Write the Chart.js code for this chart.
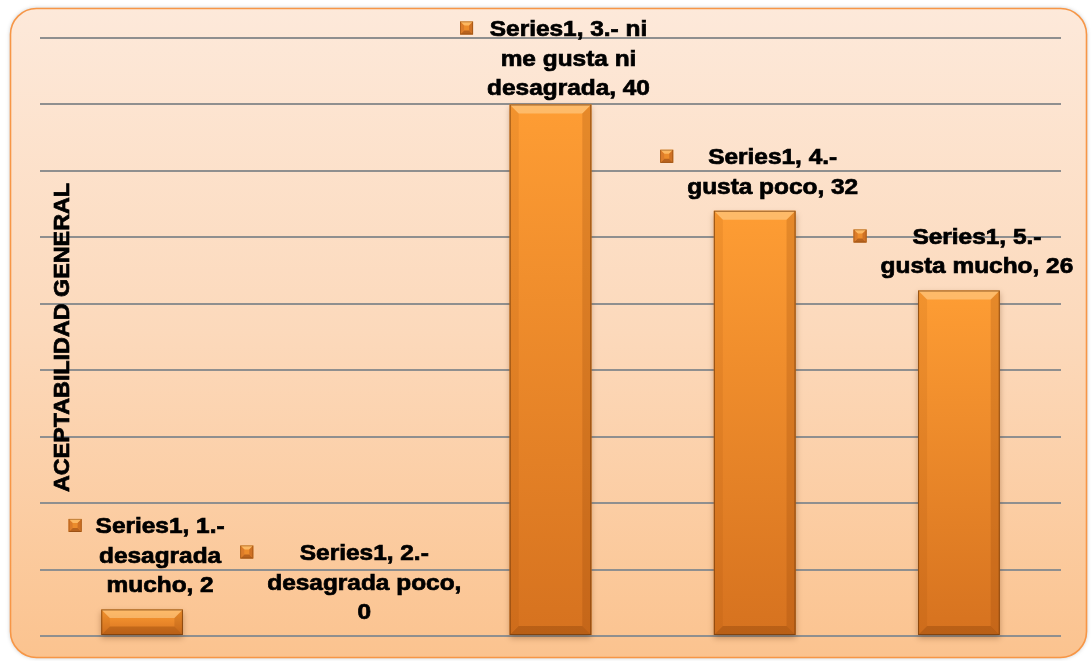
<!DOCTYPE html>
<html>
<head>
<meta charset="utf-8">
<style>
  html, body { margin: 0; padding: 0; background: #ffffff; }
  #wrap { width: 1091px; height: 661px; position: relative; }
</style>
<script src="https://cdn.jsdelivr.net/npm/chart.js@4.4.1/dist/chart.umd.min.js"></script>
</head>
<body>
<div id="wrap"><canvas id="c" width="1091" height="661"></canvas></div>
<script>
// ---- data ----
const seriesName = 'Series1';
const categories = [
  '1.- desagrada mucho',
  '2.- desagrada poco',
  '3.- ni me gusta ni desagrada',
  '4.- gusta poco',
  '5.- gusta mucho'
];
const values = [2, 0, 40, 32, 26];
const yMin = 0;
const yMax = 45;
const yStep = 5;
const axisTitle = 'ACEPTABILIDAD GENERAL';

// ---- styling ----
const LABEL_FONT = 'bold 22px "Liberation Sans", Arial, sans-serif';
const LABEL_STRETCH = 1.11;
const LABEL_LINE_H = 29.5;
const LABEL_WRAP = 176;

function wrapText(ctx, text, maxW) {
  const words = text.split(' ');
  const lines = [];
  let cur = '';
  for (const w of words) {
    const test = cur ? cur + ' ' + w : w;
    if (cur && ctx.measureText(test).width > maxW) {
      lines.push(cur);
      cur = w;
    } else {
      cur = test;
    }
  }
  if (cur) lines.push(cur);
  return lines;
}

// heavy text: fill plus a thin stroke of the same colour
function heavyText(ctx, s) {
  ctx.fillText(s, 0, 0);
  ctx.strokeText(s, 0, 0);
}

// small bevelled square used as the legend key in each label
function drawKey(ctx, x, y, s) {
  const e = 4;
  ctx.save();
  ctx.fillStyle = '#ec8c2c';
  ctx.fillRect(x, y, s, s);
  const face = (pts, col) => {
    ctx.beginPath();
    ctx.moveTo(pts[0][0], pts[0][1]);
    for (let k = 1; k < pts.length; k++) ctx.lineTo(pts[k][0], pts[k][1]);
    ctx.closePath();
    ctx.fillStyle = col;
    ctx.fill();
  };
  face([[x, y], [x + s, y], [x + s - e, y + e], [x + e, y + e]], '#fcb862');
  face([[x, y + s], [x + s, y + s], [x + s - e, y + s - e], [x + e, y + s - e]], '#b8631e');
  face([[x, y], [x + e, y + e], [x + e, y + s - e], [x, y + s]], '#dc7c2a');
  face([[x + s, y], [x + s - e, y + e], [x + s - e, y + s - e], [x + s, y + s]], '#cf7124');
  ctx.strokeStyle = 'rgba(120,60,10,0.55)';
  ctx.lineWidth = 0.8;
  ctx.strokeRect(x + 0.4, y + 0.4, s - 0.8, s - 0.8);
  ctx.restore();
}

// rounded panel behind the whole chart
const panelPlugin = {
  id: 'panel',
  beforeDraw(chart) {
    const ctx = chart.ctx;
    const x = 10.5, y = 8.5, w = 1076, h = 649, r = 26;
    ctx.save();
    const path = new Path2D();
    path.roundRect(x, y, w, h, r);
    const g = ctx.createLinearGradient(0, y, 0, y + h);
    g.addColorStop(0, '#fde9da');
    g.addColorStop(0.5, '#fcd9bb');
    g.addColorStop(1, '#fbc38f');
    ctx.shadowColor = 'rgba(0,0,0,0.28)';
    ctx.shadowBlur = 4;
    ctx.fillStyle = g;
    ctx.fill(path);
    ctx.shadowColor = 'transparent';
    ctx.strokeStyle = '#f79646';
    ctx.lineWidth = 1.6;
    ctx.stroke(path);
    ctx.restore();
  }
};

// bevelled, shaded bars painted over each bar element
const barPlugin = {
  id: 'bevelBars',
  afterDatasetsDraw(chart) {
    const ctx = chart.ctx;
    const meta = chart.getDatasetMeta(0);
    meta.data.forEach((bar) => {
      const p = bar.getProps(['x', 'y', 'base', 'width'], true);
      const l = p.x - p.width / 2, r = p.x + p.width / 2;
      const t = Math.min(p.y, p.base), b = Math.max(p.y, p.base);
      const h = b - t;
      if (h < 1) return;
      ctx.save();
      // soft shadow under the bar
      ctx.shadowColor = 'rgba(90,40,0,0.35)';
      ctx.shadowBlur = 6;
      ctx.shadowOffsetY = 3;
      const g = ctx.createLinearGradient(0, t, 0, b);
      g.addColorStop(0, '#fe9d34');
      g.addColorStop(1, '#d6721f');
      ctx.fillStyle = g;
      ctx.fillRect(l, t, p.width, h);
      ctx.shadowColor = 'transparent';
      const e = Math.min(9, h / 3, p.width / 4);
      const face = (pts, col) => {
        ctx.beginPath();
        ctx.moveTo(pts[0][0], pts[0][1]);
        for (let k = 1; k < pts.length; k++) ctx.lineTo(pts[k][0], pts[k][1]);
        ctx.closePath();
        ctx.fillStyle = col;
        ctx.fill();
      };
      face([[l, t], [r, t], [r - e, t + e], [l + e, t + e]], 'rgba(255,225,170,0.45)');
      face([[l, b], [r, b], [r - e, b - e], [l + e, b - e]], 'rgba(110,45,0,0.28)');
      face([[l, t], [l + e, t + e], [l + e, b - e], [l, b]], 'rgba(140,60,0,0.10)');
      face([[r, t], [r - e, t + e], [r - e, b - e], [r, b]], 'rgba(120,50,0,0.18)');
      ctx.strokeStyle = 'rgba(110,55,10,0.7)';
      ctx.lineWidth = 1;
      ctx.strokeRect(l + 0.5, t + 0.5, p.width - 1, h - 1);
      ctx.restore();
    });
  }
};

// data labels: "Series1, <category>, <value>" with a key square
const labelPlugin = {
  id: 'barLabels',
  afterDatasetsDraw(chart) {
    const ctx = chart.ctx;
    const meta = chart.getDatasetMeta(0);
    const top = chart.chartArea.top;
    ctx.save();
    ctx.font = LABEL_FONT;
    ctx.fillStyle = '#000000';
    ctx.strokeStyle = '#000000';
    ctx.lineWidth = 0.7;
    ctx.textAlign = 'center';
    ctx.textBaseline = 'alphabetic';
    meta.data.forEach((bar, i) => {
      const p = bar.getProps(['x', 'y', 'base'], true);
      const text = seriesName + ', ' + categories[i] + ', ' + values[i];
      const lines = wrapText(ctx, text, LABEL_WRAP);
      const blockW = Math.max(...lines.map(s => ctx.measureText(s).width)) * LABEL_STRETCH;
      const cx = p.x + 18;
      const barTop = Math.min(p.y, p.base);
      let first = barTop - 17 - (lines.length - 1) * LABEL_LINE_H;
      if (first < top - 2) first = top - 2;
      lines.forEach((s, k) => {
        ctx.save();
        ctx.translate(cx, first + k * LABEL_LINE_H);
        ctx.scale(LABEL_STRETCH, 1);
        heavyText(ctx, s);
        ctx.restore();
      });
      drawKey(ctx, cx - blockW / 2 - 14 - 13, first - 8 - 6.5, 13);
    });
    ctx.restore();
  },
  afterDraw(chart) {
    const ctx = chart.ctx;
    const a = chart.chartArea;
    ctx.save();
    ctx.font = 'bold 22px "Liberation Sans", Arial, sans-serif';
    ctx.fillStyle = '#000000';
    ctx.strokeStyle = '#000000';
    ctx.lineWidth = 0.7;
    ctx.textAlign = 'center';
    ctx.textBaseline = 'alphabetic';
    ctx.translate(a.left + 29, 337.5);
    ctx.rotate(-Math.PI / 2);
    ctx.scale(1.06, 1);
    heavyText(ctx, axisTitle);
    ctx.restore();
  }
};

new Chart(document.getElementById('c'), {
  type: 'bar',
  data: {
    labels: categories,
    datasets: [{
      label: seriesName,
      data: values,
      backgroundColor: '#f28c28',
      borderWidth: 0,
      barPercentage: 0.4,
      categoryPercentage: 1.0
    }]
  },
  options: {
    responsive: false,
    devicePixelRatio: 1,
    animation: false,
    layout: { padding: { left: 40, top: 38, right: 30, bottom: 25 } },
    plugins: { legend: { display: false }, tooltip: { enabled: false } },
    scales: {
      x: { display: false },
      y: {
        min: yMin,
        max: yMax,
        ticks: { stepSize: yStep, display: false },
        grid: { color: '#8f8f8f', lineWidth: 2, drawTicks: false },
        border: { display: false }
      }
    }
  },
  plugins: [panelPlugin, barPlugin, labelPlugin]
});
</script>
</body>
</html>
